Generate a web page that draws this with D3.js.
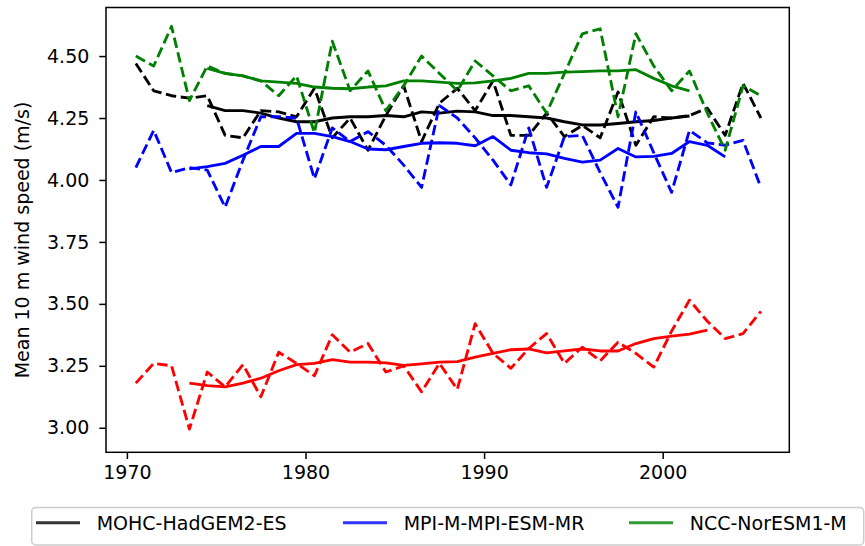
<!DOCTYPE html>
<html>
<head>
<meta charset="utf-8">
<script src="https://cdn.jsdelivr.net/npm/d3@7"></script>
<style>
  html, body { margin: 0; padding: 0; background: #fff; }
  svg { display: block; font-family: "DejaVu Sans", sans-serif; }
</style>
</head>
<body>
<svg id="chart" width="865" height="546"></svg>
<script>
// annual mean 10 m wind speed (m/s), mid-year time stamps
const years = [1970.5, 1971.5, 1972.5, 1973.5, 1974.5, 1975.5, 1976.5, 1977.5, 1978.5, 1979.5,
    1980.5, 1981.5, 1982.5, 1983.5, 1984.5, 1985.5, 1986.5, 1987.5, 1988.5, 1989.5,
    1990.5, 1991.5, 1992.5, 1993.5, 1994.5, 1995.5, 1996.5, 1997.5, 1998.5, 1999.5,
    2000.5, 2001.5, 2002.5, 2003.5, 2004.5, 2005.5]

const mohcAnnual = [4.47, 4.36, 4.34, 4.33, 4.34, 4.18, 4.17, 4.28, 4.275, 4.255,
    4.37, 4.17, 4.25, 4.12, 4.26, 4.38, 4.155, 4.31, 4.37, 4.28,
    4.40, 4.18, 4.18, 4.27, 4.175, 4.22, 4.17, 4.355, 4.14, 4.255,
    4.25, 4.26, 4.29, 4.18, 4.39, 4.25]
const mohcMean = [null, null, null, null, 4.30, 4.28, 4.28, 4.27, 4.25, 4.235,
    4.235, 4.25, 4.255, 4.255, 4.26, 4.255, 4.275, 4.27, 4.278, 4.275,
    4.26, 4.26, 4.255, 4.25, 4.235, 4.222, 4.222, 4.228, 4.235, 4.24,
    4.25, 4.258, null, null, null, null]

const mpiAnnual = [4.05, 4.20, 4.03, 4.05, 4.04, 3.89, 4.08, 4.255, 4.255, 4.25,
    4.005, 4.21, 4.155, 4.195, 4.14, 4.06, 3.97, 4.30, 4.25, 4.17,
    4.08, 3.98, 4.21, 3.97, 4.175, 4.18, 4.03, 3.89, 4.275, 4.11,
    3.95, 4.20, 4.15, 4.14, 4.16, 3.97]
const mpiMean = [null, null, null, 4.045, 4.054, 4.067, 4.10, 4.135, 4.135, 4.188,
    4.188, 4.175, 4.155, 4.125, 4.122, 4.135, 4.148, 4.15, 4.148, 4.138,
    4.175, 4.12, 4.11, 4.105, 4.087, 4.072, 4.08, 4.127, 4.093, 4.095,
    4.107, 4.155, 4.14, 4.093, null, null]

const nccAnnual = [4.50, 4.46, 4.62, 4.32, 4.46, 4.43, 4.42, 4.40, 4.34, 4.42,
    4.19, 4.56, 4.36, 4.44, 4.28, 4.38, 4.50, 4.43, 4.36, 4.48,
    4.42, 4.36, 4.38, 4.27, 4.43, 4.59, 4.61, 4.255, 4.59, 4.46,
    4.36, 4.44, 4.27, 4.12, 4.38, 4.34]
const nccMean = [null, null, null, null, 4.45, 4.43, 4.42, 4.40, 4.395, 4.39,
    4.375, 4.37, 4.368, 4.375, 4.38, 4.40, 4.40, 4.395, 4.39, 4.392,
    4.40, 4.41, 4.43, 4.43, 4.435, 4.437, 4.44, 4.44, 4.445, 4.41,
    4.38, 4.36, null, null, null, null]

// red series (not in the legend)
const obsAnnual = [3.18, 3.26, 3.25, 2.995, 3.225, 3.165, 3.255, 3.125, 3.305, 3.26,
    3.21, 3.375, 3.305, 3.34, 3.225, 3.25, 3.145, 3.26, 3.155, 3.42,
    3.30, 3.24, 3.32, 3.38, 3.26, 3.325, 3.27, 3.345, 3.30, 3.245,
    3.39, 3.515, 3.43, 3.36, 3.38, 3.47]
const obsMean = [null, null, null, 3.18, 3.17, 3.165, 3.18, 3.20, 3.23, 3.255,
    3.26, 3.275, 3.265, 3.265, 3.262, 3.252, 3.258, 3.265, 3.267, 3.285,
    3.30, 3.315, 3.318, 3.302, 3.31, 3.318, 3.31, 3.31, 3.34, 3.36,
    3.37, 3.378, 3.394, null, null, null]

const xTicks = [1970, 1980, 1990, 2000]
const yTicks = [3.00, 3.25, 3.50, 3.75, 4.00, 4.25, 4.50]
const yLabel = 'Mean 10 m wind speed (m/s)'

const series = [
    {name: 'MOHC-HadGEM2-ES', color: '#000000', annual: mohcAnnual, mean: mohcMean, legend: true},
    {name: 'MPI-M-MPI-ESM-MR', color: '#0000ff', annual: mpiAnnual, mean: mpiMean, legend: true},
    {name: 'NCC-NorESM1-M', color: '#008000', annual: nccAnnual, mean: nccMean, legend: true},
    {name: 'obs', color: '#ff0000', annual: obsAnnual, mean: obsMean, legend: false}
]

const fontSize = 19
const lw = 2.85
const box = {left: 106, right: 789.3, top: 7.5, bottom: 452.3}

const svg = d3.select('#chart')

const x = d3.scaleLinear().domain([1968.83, 2007.09]).range([box.left, box.right])
const y = d3.scaleLinear().domain([2.901, 4.696]).range([box.bottom, box.top])

const line = d3.line()
    .defined(d => d[1] !== null)
    .x(d => x(d[0]))
    .y(d => y(d[1]))

// lines
const plot = svg.append('g').attr('class', 'lines')
series.forEach(s => {
    plot.append('path')
        .datum(years.map((yr, i) => [yr, s.annual[i]]))
        .attr('fill', 'none')
        .attr('stroke', s.color)
        .attr('stroke-width', lw)
        .attr('stroke-dasharray', '10.5,4.6')
        .attr('stroke-linejoin', 'round')
        .attr('d', line)
    plot.append('path')
        .datum(years.map((yr, i) => [yr, s.mean[i]]))
        .attr('fill', 'none')
        .attr('stroke', s.color)
        .attr('stroke-width', lw)
        .attr('stroke-linejoin', 'round')
        .attr('d', line)
})

// axes
const xAxis = svg.append('g')
    .attr('transform', 'translate(0,' + box.bottom + ')')
    .call(d3.axisBottom(x).tickValues(xTicks).tickFormat(d3.format('d'))
        .tickSize(6.7).tickSizeOuter(0).tickPadding(6.7))
const yAxis = svg.append('g')
    .attr('transform', 'translate(' + box.left + ',0)')
    .call(d3.axisLeft(y).tickValues(yTicks).tickFormat(d3.format('.2f'))
        .tickSize(6.7).tickSizeOuter(0).tickPadding(10))

;[xAxis, yAxis].forEach(a => {
    a.select('.domain').remove()
    a.selectAll('.tick line').attr('stroke', '#000').attr('stroke-width', 1.5)
    a.selectAll('.tick text')
        .attr('fill', '#000')
        .style('font-size', fontSize + 'px')
        .style('font-family', '"DejaVu Sans", sans-serif')
})

svg.append('rect')
    .attr('x', box.left)
    .attr('y', box.top)
    .attr('width', box.right - box.left)
    .attr('height', box.bottom - box.top)
    .attr('fill', 'none')
    .attr('stroke', '#000')
    .attr('stroke-width', 1.5)

svg.append('text')
    .attr('transform', 'translate(29,240) rotate(-90)')
    .attr('text-anchor', 'middle')
    .style('font-size', fontSize + 'px')
    .attr('fill', '#000')
    .text(yLabel)

// legend
const legend = svg.append('g').attr('class', 'legend')
legend.append('rect')
    .attr('x', 31.7)
    .attr('y', 507.5)
    .attr('width', 832)
    .attr('height', 37.5)
    .attr('rx', 4)
    .attr('fill', '#fff')
    .attr('fill-opacity', 0.8)
    .attr('stroke', '#cccccc')
    .attr('stroke-width', 1.5)

const handleX = [36, 343, 629]
series.filter(s => s.legend).forEach((s, i) => {
    const g = legend.append('g').attr('transform', 'translate(' + handleX[i] + ',522.7)')
    g.append('line')
        .attr('x1', 0)
        .attr('x2', 44)
        .attr('stroke', s.color)
        .attr('stroke-opacity', 0.8)
        .attr('stroke-width', lw)
    g.append('text')
        .attr('x', 60.7)
        .attr('dy', '0.36em')
        .style('font-size', fontSize + 'px')
        .attr('fill', '#000')
        .text(s.name)
})
</script>
</body>
</html>
